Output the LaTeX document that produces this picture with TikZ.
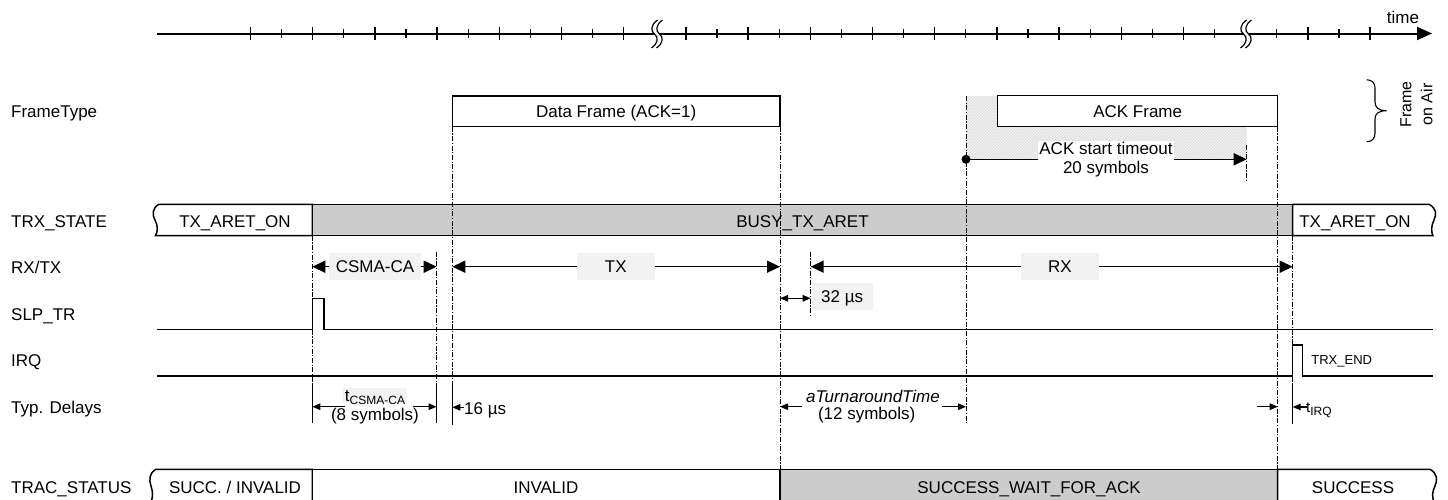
\documentclass[tikz,border=0pt]{standalone}
\usepackage{fontspec}
\setmainfont{Liberation Sans}
\usetikzlibrary{arrows.meta,patterns}
\begin{document}
\begin{tikzpicture}[x=1pt,y=-1pt,
  base/.style={font=\fontsize{17}{19}\selectfont, inner sep=0pt},
  lbl/.style={base, text height=12.2pt, text depth=0pt},
  rowlbl/.style={lbl, anchor=west},
  sig/.style={line width=1.5pt},
  vline/.style={line width=1pt, dash pattern=on 5pt off 1.6pt on 1.2pt off 1.6pt},
  ext/.style={line width=1pt},
  bigdbl/.style={line width=1.5pt, {Triangle[length=13pt,width=12pt]}-{Triangle[length=13pt,width=12pt]}},
  bigarr/.style={line width=1.5pt, -{Triangle[length=13pt,width=12pt]}},
  sarr/.style={line width=1.1pt, -{Triangle[length=8pt,width=6.5pt]}},
  dsarr/.style={line width=1.1pt, {Triangle[length=8pt,width=6.5pt]}-{Triangle[length=8pt,width=6.5pt]}},
  tagbg/.style={lbl, fill=gray!10, minimum height=27.5pt},
  framebox/.style={lbl, draw, line width=1.5pt, fill=white},
]
\useasboundingbox (0,0) rectangle (1448,499);
\clip (0,0) rectangle (1448,499);

% ---------------- time axis ----------------
\coordinate (ax0) at (157,33.5);
\coordinate (ax1) at (1432,33.5);
\draw[line width=2pt, -{Triangle[length=15pt,width=13pt]}] (ax0) -- (ax1);
\foreach \k in {0,...,18}{\ifnum\k=16\relax\else
  \draw[line width=1.3pt] ({250.5+62.2*\k},26.8) -- ++(0,13.4);\fi}
\foreach \k in {0,...,17}{\ifnum\k=6\relax\else
  \draw[line width=1.3pt] ({281.6+62.2*\k},29.2) -- ++(0,8.6);\fi}
\foreach \c in {657,1246}{
  \fill[white] (\c-2.5,30) rectangle (\c+2.5,37);
  \foreach \x in {\c-2.5,\c+2.5}{
    \draw[line width=1.2pt] (\x+3,20) .. controls (\x-4,25) and (\x-4,31) .. (\x,34)
      .. controls (\x+4,37) and (\x+4,43) .. (\x-3,48);}
}
\node[lbl] (timelbl) at (1403,17.5) {time};

% ---------------- row labels ----------------
\node[rowlbl] (lFT) at (11,111.7) {FrameType};
\node[rowlbl] (lTRX) at (11,221) {TRX\_STATE};
\node[rowlbl] (lRXTX) at (11,267.3) {RX/TX};
\node[rowlbl] (lSLP) at (11,314) {SLP\_TR};
\node[rowlbl] (lIRQ) at (11,360.7) {IRQ};
\node[rowlbl] (lTD) at (11,407.3) {Typ. Delays};
\node[rowlbl] (lTS) at (11,487.3) {TRAC\_STATUS};

% ---------------- frames on air ----------------
\path[fill=gray!10] (966,96) -- (997.7,96) -- (997.7,126.7) -- (1246.7,126.7)
  -- (1246.7,159.3) -- (966,159.3) -- cycle;
\path[pattern=north east lines, pattern color=gray!32] (966,96) -- (997.7,96) -- (997.7,126.7) -- (1246.7,126.7)
  -- (1246.7,159.3) -- (966,159.3) -- cycle;
\node[framebox, minimum width=327.7pt, minimum height=30.7pt] (dframe) at (616.15,111.35) {Data Frame (ACK=1)};
\node[framebox, minimum width=280pt, minimum height=31.2pt] (aframe) at (1137.7,111.1) {ACK Frame};
\draw[line width=1.1pt] (1366.7,79.7) .. controls (1372,80) and (1375,83) .. (1375,88) -- (1375,102)
  .. controls (1375,107) and (1378,110.7) .. (1386.7,110.7)
  .. controls (1378,110.7) and (1375,114) .. (1375,119) -- (1375,133)
  .. controls (1375,138.5) and (1372,141.7) .. (1366.7,141.7);
\node[base, font=\fontsize{16}{21}\selectfont, rotate=90, align=center] (foa) at (1416.5,104.5) {Frame\\on Air};

% ---------------- TRX_STATE bar ----------------
\draw[sig, fill=white] (312.3,204.3) -- (159,204.3) .. controls (152,208) and (152,215) .. (155,220)
  .. controls (158,226) and (158,231) .. (155.5,235.7) -- (312.3,235.7) -- cycle;
\draw[sig, fill=gray!40] (312.3,204.3) rectangle (1292.7,235.7);
\draw[sig, fill=white] (1292.7,204.3) -- (1429,204.3) .. controls (1436,208) and (1437,214) .. (1434,220)
  .. controls (1431,226) and (1431,232) .. (1433,235.7) -- (1292.7,235.7) -- cycle;
\node[lbl] (s1) at (235,221.7) {TX\_ARET\_ON};
\node[lbl] (s2) at (802.5,221.7) {BUSY\_TX\_ARET};
\node[lbl] (s3) at (1355,221.7) {TX\_ARET\_ON};

% ---------------- TRAC_STATUS bar ----------------
\draw[sig, fill=white] (312.3,469.3) -- (156,469.3) .. controls (149,473) and (149,480) .. (151,486)
  .. controls (153,492) and (153,497) .. (151,502) -- (312.3,502) -- cycle;
\draw[sig, fill=white] (312.3,469.3) rectangle (780,502);
\draw[sig, fill=gray!40] (780,469.3) rectangle (1277.7,502);
\draw[sig, fill=white] (1277.7,469.3) -- (1430,469.3) .. controls (1437,473) and (1438,480) .. (1435,486)
  .. controls (1432,492) and (1432,497) .. (1434,502) -- (1277.7,502) -- cycle;
\node[lbl] (r1) at (235,487.3) {SUCC. / INVALID};
\node[lbl] (r2) at (546,487.3) {INVALID};
\node[lbl] (r3) at (1029,487.3) {SUCCESS\_WAIT\_FOR\_ACK};
\node[lbl] (r4) at (1353,487.3) {SUCCESS};

% ---------------- SLP_TR and IRQ ----------------
\draw[sig] (156.7,329.3) -- (312.3,329.3) -- (312.3,298.3) -- (324,298.3) -- (324,329.3) -- (1433,329.3);
\draw[sig] (156.7,376) -- (1292.7,376) -- (1292.7,345) -- (1302.3,345) -- (1302.3,376) -- (1433,376);
\node[base, font=\fontsize{13}{15}\selectfont, text height=9.3pt, text depth=0pt] (trxend) at (1341.7,360.3) {TRX\_END};

% ---------------- vertical event lines ----------------
\draw[vline] (312.3,235.7) -- (312.3,385);
\draw[vline] (436.7,251.7) -- (436.7,385);
\draw[vline] (452.3,126.7) -- (452.3,385);
\draw[vline] (780,126.7) -- (780,469.3);
\draw[vline] (810.7,251.7) -- (810.7,316);
\draw[vline] (966,96) -- (966,423);
\draw[vline] (1246.7,145) -- (1246.7,180);
\draw[vline] (1277.7,126.7) -- (1277.7,469.3);
\draw[vline] (1292.7,235.7) -- (1292.7,385);
\draw[ext] (312.3,385) -- (312.3,423);
\draw[ext] (436.7,385) -- (436.7,423);
\draw[ext] (452.3,385) -- (452.3,425);
\draw[ext] (1292.7,385) -- (1292.7,424);

% ---------------- ACK timeout ----------------
\node[circle, fill=black, inner sep=0pt, minimum size=9pt] (ackdot) at (966,159.3) {};
\coordinate (ackend) at (1246.7,159.3);
\draw[bigarr] (ackdot.center) -- (ackend);
\node[base, fill=white, align=center, inner xsep=1pt, inner ysep=1.5pt] (acktxt) at (1106,160) {ACK start timeout\\20 symbols};

% ---------------- RX/TX ----------------
\draw[bigdbl] (312.3,266.7) -- (436.7,266.7);
\draw[bigdbl] (452.3,266.7) -- (780,266.7);
\draw[bigdbl] (810.7,266.7) -- (1292.7,266.7);
\node[tagbg, minimum width=91.5pt] (csma) at (375,266.7) {CSMA-CA};
\node[tagbg, minimum width=78.3pt] (tx) at (615.8,266.7) {TX};
\node[tagbg, minimum width=78.3pt] (rx) at (1060,266.7) {RX};
\draw[dsarr] (780,298.3) -- (810.7,298.3);
\node[tagbg, minimum width=61pt] (us32) at (842.2,296.7) {32 µs};

% ---------------- Typ. Delays ----------------
\draw[sarr] (345,406.7) -- (312.3,406.7);
\draw[sarr] (413,406.7) -- (436.7,406.7);
\node[lbl, fill=gray!10, inner xsep=2pt, inner ysep=1pt] (tcsma) at (375,395.5) {t\raisebox{-3pt}{\fontsize{12}{12}\selectfont CSMA-CA}};
\node[lbl] (sym8) at (375,414) {(8 symbols)};
\draw[sarr] (464,407.3) -- (452.3,407.3);
\node[lbl, anchor=west] (us16) at (464,408) {16 µs};
\draw[sarr] (802,406.7) -- (780,406.7);
\draw[sarr] (942,406.7) -- (966,406.7);
\node[lbl, font=\fontsize{17}{19}\selectfont\itshape] (tat) at (873,396.7) {aTurnaroundTime};
\node[lbl] (sym12) at (866.7,413) {(12 symbols)};
\draw[sarr] (1256.7,406.7) -- (1277.7,406.7);
\draw[sarr] (1306.7,407) -- (1292.7,407);
\node[base, anchor=west, font=\fontsize{15}{17}\selectfont, text height=10.7pt, text depth=0pt] (tirq) at (1306,407) {t\raisebox{-3.5pt}{\fontsize{12}{12}\selectfont IRQ}};
\end{tikzpicture}
\end{document}
